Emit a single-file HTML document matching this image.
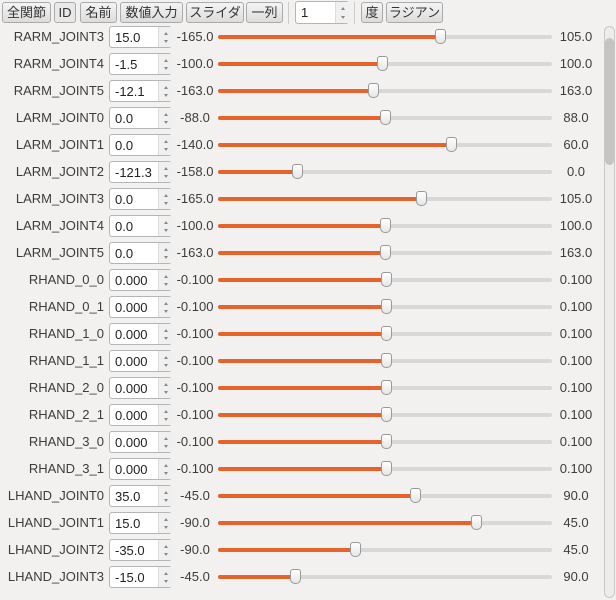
<!DOCTYPE html>
<html><head><meta charset="utf-8"><style>
body{margin:0;width:616px;height:600px;background:#f2f1f0;font-family:"Liberation Sans","Noto Sans CJK JP",sans-serif;font-size:13px;color:#3c3c3c;position:relative;overflow:hidden}
.b{position:absolute;top:2px;height:21px;border:1px solid #aaa;border-radius:3px;background:linear-gradient(#f4f4f4,#dcdcdc);box-sizing:border-box;font-size:13px;line-height:19px;text-align:center;color:#333}
.a{position:absolute;}
.lbl{position:absolute;left:0;width:104px;text-align:right;font-size:13px}
.sp{position:absolute;left:109px;width:63px;height:22px;border:1px solid #b5b5b5;border-radius:3px;background:#fff;box-sizing:border-box}
.sp span{position:absolute;left:5px;top:3px;font-size:13px;color:#222}
.sp i{position:absolute;left:48px;top:0;width:14px;height:20px;background:#f0f0f0;border-left:1px solid #ddd;font-style:normal}
.sp i:before,.sp i:after{content:"";position:absolute;left:5px;width:0;height:0;border-left:2px solid transparent;border-right:2px solid transparent}
.sp i:before{top:5px;border-bottom:3px solid #888}
.sp i:after{bottom:4px;border-top:3px solid #888}
.mn{position:absolute;left:174px;width:42px;text-align:center}
.mx{position:absolute;left:555px;width:42px;text-align:center}
.tr{position:absolute;left:218px;width:334px;height:4px;background:#d8d8d8;border-radius:2px}
.or{position:absolute;left:218px;height:4px;background:#e8632b;border-radius:2px}
.th{position:absolute;width:11px;height:15px;background:linear-gradient(#fff,#e6e6e6);border:1px solid #999;border-radius:3px 3px 5px 5px;box-sizing:border-box}
</style></head><body>
<div class="b" style="left:2px;width:49px">全関節</div>
<div class="b" style="left:54px;width:22px;background:#e8e8e8">ID</div>
<div class="b" style="left:80px;width:37px">名前</div>
<div class="b" style="left:120px;width:63px">数値入力</div>
<div class="b" style="left:186px;width:58px">スライダ</div>
<div class="b" style="left:246px;width:37px">一列</div>
<div class="a" style="left:288px;top:2px;width:1px;height:22px;background:#ccc"></div>
<div class="sp" style="left:295px;top:1px;width:54px;height:23px"><span>1</span><i style="left:39px;height:21px"></i></div>
<div class="a" style="left:354px;top:2px;width:1px;height:22px;background:#ccc"></div>
<div class="b" style="left:361px;width:22px">度</div>
<div class="b" style="left:386px;width:57px">ラジアン</div>
<div class="a" style="left:604px;top:26px;width:11px;height:572px;border:1px solid #c8c8c8;border-radius:6px;background:#ececec;box-sizing:border-box"></div>
<div class="a" style="left:605px;top:38px;width:9px;height:127px;background:#c4c4c4;border-radius:5px"></div>
<div id="rows"></div>
<script>
var d=[["RARM_JOINT3","15.0","-165.0","105.0",440],["RARM_JOINT4","-1.5","-100.0","100.0",382],["RARM_JOINT5","-12.1","-163.0","163.0",373],["LARM_JOINT0","0.0","-88.0","88.0",385],["LARM_JOINT1","0.0","-140.0","60.0",451],["LARM_JOINT2","-121.3","-158.0","0.0",297],["LARM_JOINT3","0.0","-165.0","105.0",421],["LARM_JOINT4","0.0","-100.0","100.0",385],["LARM_JOINT5","0.0","-163.0","163.0",385]];
["RHAND_0_0","RHAND_0_1","RHAND_1_0","RHAND_1_1","RHAND_2_0","RHAND_2_1","RHAND_3_0","RHAND_3_1"].forEach(function(n){d.push([n,"0.000","-0.100","0.100",386])});
d.push(["LHAND_JOINT0","35.0","-45.0","90.0",415],["LHAND_JOINT1","15.0","-90.0","45.0",476],["LHAND_JOINT2","-35.0","-90.0","45.0",355],["LHAND_JOINT3","-15.0","-45.0","90.0",295]);
var h="";d.forEach(function(r,i){var c=37+i*27;
h+='<div class="lbl" style="top:'+(c-8)+'px">'+r[0]+'</div><div class="sp" style="top:'+(c-11)+'px"><span>'+r[1]+'</span><i></i></div><div class="mn" style="top:'+(c-8)+'px">'+r[2]+'</div><div class="tr" style="top:'+(c-2)+'px"></div><div class="or" style="top:'+(c-2)+'px;width:'+(r[4]-218)+'px"></div><div class="th" style="left:'+(r[4]-5)+'px;top:'+(c-8)+'px"></div><div class="mx" style="top:'+(c-8)+'px">'+r[3]+'</div>';});
document.getElementById("rows").innerHTML=h;
</script>
</body></html>
